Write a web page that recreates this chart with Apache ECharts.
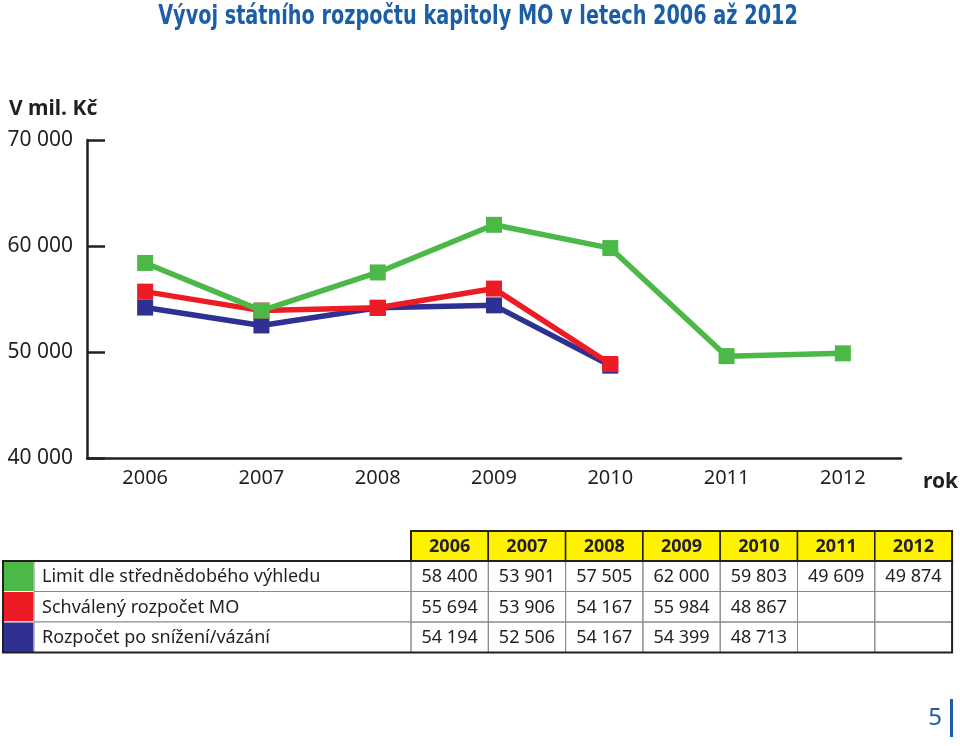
<!DOCTYPE html>
<html>
<head>
<meta charset="utf-8">
<script src="https://cdn.jsdelivr.net/npm/echarts@6/dist/echarts.min.js"></script>
<style>
html,body{margin:0;padding:0;background:#fff;}
#chart{width:960px;height:746px;}
</style>
</head>
<body>
<div id="chart"></div>
<script>
// ---- data ----
const years = ['2006', '2007', '2008', '2009', '2010', '2011', '2012'];
const seriesNames = ['Limit dle střednědobého výhledu', 'Schválený rozpočet MO', 'Rozpočet po snížení/vázání'];
const limitValues = [58400, 53901, 57505, 62000, 59803, 49609, 49874];
const approvedValues = [55694, 53906, 54167, 55984, 48867, null, null];
const reducedValues = [54194, 52506, 54167, 54399, 48713, null, null];
const yTickValues = [40000, 50000, 60000, 70000];
const titleText = 'Vývoj státního rozpočtu kapitoly MO v letech 2006 až 2012';

const colors = ['#4cb848', '#ed1c24', '#2e3192'];
const titleBlue = '#1b5ea6';
const font = '"Noto Sans", "Open Sans", sans-serif';
const narrow = '"DejaVu Sans Condensed", "Noto Sans", sans-serif';

function fmt(v) {
  if (v === null || v === undefined) return '';
  return String(v).replace(/\B(?=(\d{3})+(?!\d))/g, ' ');
}

// ---- table (built from the data arrays) ----
const tableRows = [limitValues, approvedValues, reducedValues];
const T = { left: 3, swatchW: 31, valLeft: 411, colW: 77.3, headTop: 531, headH: 30, rowH: 30.5 };
const graphics = [];
const right = T.valLeft + T.colW * years.length;
// title (condensed by horizontal scaling)
graphics.push({ type: 'text', x: 478, y: 17, scaleX: 0.823, scaleY: 1,
  style: { text: titleText, fill: titleBlue, font: 'bold 26px ' + narrow, align: 'center', verticalAlign: 'middle' } });
// header
years.forEach((y, i) => {
  const x = T.valLeft + i * T.colW;
  graphics.push({ type: 'rect', shape: { x: x, y: T.headTop, width: T.colW, height: T.headH },
    style: { fill: '#fff200', stroke: '#231f20', lineWidth: 1.5 } });
  graphics.push({ type: 'text', x: x + T.colW / 2, y: T.headTop + T.headH / 2 + 1,
    style: { text: y, fill: '#231f20', font: 'bold 18px ' + font, align: 'center', verticalAlign: 'middle' } });
});
// rows
tableRows.forEach((vals, r) => {
  const top = T.headTop + T.headH + r * T.rowH;
  graphics.push({ type: 'rect', shape: { x: T.left, y: top, width: T.swatchW, height: T.rowH },
    style: { fill: colors[r], stroke: '#ffffff', lineWidth: 1 } });
  graphics.push({ type: 'rect', shape: { x: T.left + T.swatchW, y: top, width: T.valLeft - T.left - T.swatchW, height: T.rowH },
    style: { fill: '#fff', stroke: '#8a8a8a', lineWidth: 1 } });
  graphics.push({ type: 'text', x: T.left + T.swatchW + 8, y: top + T.rowH / 2 + 1,
    style: { text: seriesNames[r], fill: '#231f20', font: '18px ' + font, align: 'left', verticalAlign: 'middle' } });
  years.forEach((y, i) => {
    const x = T.valLeft + i * T.colW;
    graphics.push({ type: 'rect', shape: { x: x, y: top, width: T.colW, height: T.rowH },
      style: { fill: 'none', stroke: '#8a8a8a', lineWidth: 1 } });
    graphics.push({ type: 'text', x: x + T.colW / 2, y: top + T.rowH / 2 + 1,
      style: { text: fmt(vals[i]), fill: '#231f20', font: '18px ' + font, align: 'center', verticalAlign: 'middle' } });
  });
});
// outer borders
const bodyTop = T.headTop + T.headH;
graphics.push({ type: 'rect', shape: { x: T.left, y: bodyTop, width: right - T.left, height: T.rowH * tableRows.length },
  style: { fill: 'none', stroke: '#231f20', lineWidth: 2 } });
graphics.push({ type: 'rect', shape: { x: T.valLeft, y: T.headTop, width: right - T.valLeft, height: T.headH },
  style: { fill: 'none', stroke: '#231f20', lineWidth: 2 } });

// page number
graphics.push({ type: 'text', x: 942, y: 718,
  style: { text: '5', fill: titleBlue, font: '24px ' + font, align: 'right', verticalAlign: 'middle' } });
graphics.push({ type: 'rect', shape: { x: 950, y: 699, width: 3, height: 38 }, style: { fill: titleBlue } });

const chart = echarts.init(document.getElementById('chart'), null, { renderer: 'canvas' });
chart.setOption({
  animation: false,
  backgroundColor: '#ffffff',
  title: [
    { text: 'V mil. Kč', left: 4, top: 94,
      textStyle: { color: '#231f20', fontFamily: font, fontWeight: 'bold', fontSize: 21 } },
    { text: 'rok', left: 918, top: 467,
      textStyle: { color: '#231f20', fontFamily: font, fontWeight: 'bold', fontSize: 21 } }
  ],
  grid: { left: 87, right: 59, top: 140, bottom: 288, containLabel: false },
  xAxis: {
    type: 'category',
    data: years,
    boundaryGap: true,
    axisLine: { lineStyle: { color: '#231f20', width: 2.5 } },
    axisTick: { inside: true, alignWithLabel: true, length: 11, lineStyle: { color: '#231f20', width: 2 } },
    axisLabel: { color: '#231f20', fontFamily: font, fontSize: 20, margin: 10 },
    splitLine: { show: false }
  },
  yAxis: {
    type: 'value',
    min: 40000, max: 70000, interval: 10000,
    axisLine: { show: true, lineStyle: { color: '#231f20', width: 2.5 } },
    axisTick: { show: true, inside: true, length: 18, lineStyle: { color: '#231f20', width: 2.5 } },
    axisLabel: {
      color: '#231f20', fontFamily: font, fontSize: 21, margin: 14,
      formatter: v => yTickValues.indexOf(v) >= 0 ? fmt(v) : ''
    },
    splitLine: { show: false }
  },
  series: [
    { name: seriesNames[2], type: 'line', data: reducedValues, symbol: 'rect', symbolSize: 16,
      itemStyle: { color: colors[2] }, lineStyle: { color: colors[2], width: 5.5 }, z: 2 },
    { name: seriesNames[1], type: 'line', data: approvedValues, symbol: 'rect', symbolSize: 16,
      itemStyle: { color: colors[1] }, lineStyle: { color: colors[1], width: 5.5 }, z: 3 },
    { name: seriesNames[0], type: 'line', data: limitValues, symbol: 'rect', symbolSize: 16,
      itemStyle: { color: colors[0] }, lineStyle: { color: colors[0], width: 5.5 }, z: 4 }
  ],
  graphic: graphics
});
</script>
</body>
</html>
